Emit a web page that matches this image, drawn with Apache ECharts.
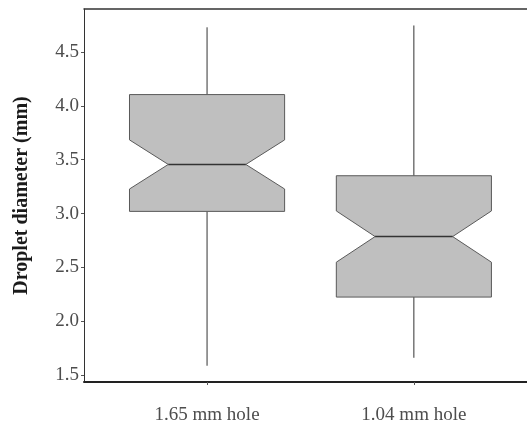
<!DOCTYPE html>
<html>
<head>
<meta charset="utf-8">
<script src="https://cdn.jsdelivr.net/npm/echarts@6/dist/echarts.min.js"></script>
<style>
html, body { margin: 0; padding: 0; background: #fff; }
#chart { width: 527px; height: 427px; }
</style>
</head>
<body>
<div id="chart"></div>
<script>
// data
var categories = ['1.65 mm hole', '1.04 mm hole'];
var whiskerLow = [1.586, 1.66];
var q1 = [3.02, 2.224];
var notchLow = [3.228, 2.548];
var median = [3.456, 2.786];
var notchHigh = [3.684, 3.024];
var q3 = [4.105, 3.351];
var whiskerHigh = [4.73, 4.747];
var yTicks = [1.5, 2.0, 2.5, 3.0, 3.5, 4.0, 4.5];

var rows = categories.map(function (c, i) {
    return [i + 1, whiskerLow[i], q1[i], notchLow[i], median[i], notchHigh[i], q3[i], whiskerHigh[i]];
});

var boxHalf = 0.375;   // ggplot width 0.75
var notchHalf = 0.1875;

function renderBox(params, api) {
    var x = api.value(0);
    var p = function (dx, v) { return api.coord([x + dx, v]); };
    var lo = api.value(1), b1 = api.value(2), n1 = api.value(3), md = api.value(4),
        n2 = api.value(5), b3 = api.value(6), hi = api.value(7);
    var lineStyle = { stroke: '#333', lineWidth: 1 };
    return {
        type: 'group',
        children: [
            { type: 'line', shape: { x1: p(0, b3)[0], y1: p(0, b3)[1], x2: p(0, hi)[0], y2: p(0, hi)[1] }, style: lineStyle },
            { type: 'line', shape: { x1: p(0, lo)[0], y1: p(0, lo)[1], x2: p(0, b1)[0], y2: p(0, b1)[1] }, style: lineStyle },
            {
                type: 'polygon',
                shape: {
                    points: [
                        p(-boxHalf, b1), p(-boxHalf, n1), p(-notchHalf, md), p(-boxHalf, n2), p(-boxHalf, b3),
                        p(boxHalf, b3), p(boxHalf, n2), p(notchHalf, md), p(boxHalf, n1), p(boxHalf, b1)
                    ]
                },
                style: { fill: '#bfbfbf', stroke: '#5a5a5a', lineWidth: 1 }
            },
            { type: 'line', shape: { x1: p(-notchHalf, md)[0], y1: p(-notchHalf, md)[1], x2: p(notchHalf, md)[0], y2: p(notchHalf, md)[1] }, style: { stroke: '#333', lineWidth: 1.6 } }
        ]
    };
}

var chart = echarts.init(document.getElementById('chart'));
chart.setOption({
    animation: false,
    grid: { left: 84, right: 0, top: 9, bottom: 45 },
    xAxis: [{
        type: 'value', min: 0.405, max: 2.547,
        splitLine: { show: false },
        axisLine: { show: true, lineStyle: { color: '#222', width: 2 } },
        axisTick: { show: true, customValues: [1, 2], length: 3, lineStyle: { color: '#555' } },
        axisLabel: {
            customValues: [1, 2], margin: 24,
            formatter: function (v) { return categories[Math.round(v) - 1]; },
            fontFamily: 'Liberation Serif', fontSize: 19, color: '#4d4d4d'
        }
    }, {
        // top border of the panel
        type: 'value', position: 'top', min: 0.405, max: 2.547,
        splitLine: { show: false }, axisTick: { show: false }, axisLabel: { show: false },
        axisLine: { show: true, lineStyle: { color: '#333', width: 1.5 } }
    }],
    yAxis: {
        type: 'value', min: 1.435, max: 4.9,
        name: 'Droplet diameter (mm)', nameLocation: 'middle', nameGap: 52,
        nameTextStyle: { fontFamily: 'Liberation Serif', fontSize: 20, fontWeight: 'bold', color: '#1a1a1a' },
        splitLine: { show: false },
        axisLine: { show: true, lineStyle: { color: '#333', width: 1 } },
        axisTick: { show: true, customValues: yTicks, length: 3, lineStyle: { color: '#555' } },
        axisLabel: {
            customValues: yTicks, margin: 5,
            formatter: function (v) { return v.toFixed(1); },
            fontFamily: 'Liberation Serif', fontSize: 19, color: '#4d4d4d'
        }
    },
    series: [{
        type: 'custom',
        renderItem: renderBox,
        encode: { x: 0, y: [1, 2, 3, 4, 5, 6, 7] },
        data: rows
    }]
});
</script>
</body>
</html>
